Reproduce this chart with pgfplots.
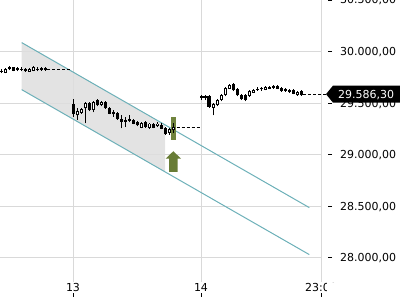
\documentclass[border=0pt]{standalone}
\usepackage{pgfplots}
\usepackage{pgfplotstable}
\pgfplotsset{compat=1.18}
\usepackage{fontspec}
\setmainfont{DejaVu Sans}
\definecolor{gridc}{RGB}{217,217,217}
\definecolor{chan}{RGB}{108,176,184}
\definecolor{chanfill}{RGB}{222,222,222}
\definecolor{hl}{RGB}{112,132,62}
\definecolor{arr}{RGB}{104,124,54}

% candles: x, low, high, body bottom, body top
\pgfplotstableread{
x lo hi bot top
1.7 29789 29827 29803 29813
9.3 29818 29857 29827 29847
13.3 29808 29852 29813 29847
17.3 29808 29847 29818 29837
21.3 29808 29847 29823 29832
25.3 29803 29837 29808 29827
37.3 29808 29847 29823 29832
41.3 29813 29847 29823 29837
45.3 29813 29847 29823 29837
73.3 29362 29536 29391 29488
89.3 29420 29512 29430 29502
97.3 29468 29536 29478 29527
105.7 29444 29517 29449 29510
109.7 29391 29464 29398 29454
113.3 29367 29430 29391 29410
117.3 29337 29410 29342 29403
121.3 29255 29381 29316 29349
125.7 29265 29362 29316 29333
129.7 29313 29381 29328 29342
133.3 29294 29342 29301 29333
137.3 29274 29328 29284 29316
145.3 29262 29323 29268 29316
153.3 29255 29306 29262 29301
161.3 29245 29310 29252 29284
165.7 29194 29265 29204 29258
201.7 29527 29582 29551 29565
205.0 29527 29575 29551 29565
209.0 29456 29582 29462 29568
233.3 29614 29696 29624 29689
237.7 29565 29648 29575 29640
241.3 29527 29590 29536 29582
245.7 29517 29585 29527 29575
257.3 29619 29653 29629 29640
261.3 29619 29658 29633 29646
269.3 29633 29663 29640 29656
273.3 29638 29672 29646 29663
277.3 29633 29672 29640 29663
281.3 29609 29658 29617 29650
285.3 29609 29643 29617 29633
289.3 29599 29633 29607 29624
293.3 29585 29633 29592 29624
301.3 29570 29629 29575 29617
}\filled
\pgfplotstableread{
x lo hi bot top
5.3 29789 29842 29794 29832
29.3 29803 29842 29806 29829
33.3 29808 29857 29813 29847
77.3 29333 29449 29381 29420
81.7 29396 29454 29407 29439
85.7 29303 29507 29449 29498
93.3 29410 29522 29430 29512
101.7 29468 29522 29478 29512
141.7 29255 29313 29262 29306
149.3 29252 29306 29258 29301
157.3 29265 29316 29274 29301
169.7 29194 29255 29213 29245
173.7 29206 29310 29236 29268
213.3 29381 29498 29456 29488
217.3 29468 29536 29478 29527
221.3 29517 29585 29527 29575
225.7 29565 29658 29575 29650
229.3 29633 29682 29640 29672
249.3 29561 29629 29568 29617
253.3 29595 29633 29600 29624
265.3 29624 29663 29630 29656
297.3 29570 29614 29575 29607
}\hollow

\begin{document}
\fontsize{11pt}{13pt}\selectfont
\begin{tikzpicture}
\path[use as bounding box] (0,0) rectangle (400pt,300pt);
\begin{axis}[
  at={(0pt,18pt)}, anchor=south west,
  scale only axis, width=322pt, height=282pt,
  xmin=0, xmax=322, ymin=27763, ymax=30500,
  clip=false,
  axis line style={draw=none},
  scaled ticks=false,
  xtick={73,201,321}, xticklabels={13,14,23:00},
  ytick={28000,28500,29000,29500,30000,30500},
  grid=major, major grid style={gridc, line width=1pt},
  tick align=outside, major tick length=4pt,
  xtick style={black, line width=0.8pt, yshift=-11pt},
  ytick style={black, line width=0.8pt, xshift=6pt},
  ytick pos=right, yticklabel pos=right, xtick pos=bottom,
  xticklabel style={anchor=north, inner sep=0pt, yshift=3pt},
  yticklabel style={anchor=base west, inner sep=0pt, yshift=-4pt, xshift=14pt},
  /pgf/number format/assume math mode=true,
  yticklabel={\pgfmathprintnumber[fixed, fixed zerofill, precision=2, use comma, 1000 sep={.}]{\tick}},
  every tick label/.append style={font=\fontsize{11pt}{13pt}\selectfont},
]
% channel fill
\addplot[draw=none, fill=chanfill, fill opacity=0.85] coordinates {(21.7,30086.5) (165,29288.5) (165,28832) (21.7,29630)} --cycle;
% channel lines
\addplot[chan, line width=1pt] coordinates {(21.7,30086.5) (309.3,28485)};
\addplot[chan, line width=1pt] coordinates {(21.7,29630) (309.3,28029)};
% highlight
\addplot[draw=none, fill=hl] coordinates {(171.3,29365) (175.7,29365) (175.7,29145) (171.3,29145)} --cycle;
% arrow
\addplot[draw=none, fill=arr] coordinates {(173.3,29032) (181,28961) (177.7,28961) (177.7,28831) (169,28831) (169,28961) (165.7,28961)} --cycle;
% dashed close lines
\addplot[black, dashed, dash pattern=on 3pt off 2pt, line width=0.8pt] coordinates {(47,29827) (70,29827)};
\addplot[black, dashed, dash pattern=on 3pt off 2pt, line width=0.8pt] coordinates {(176.7,29262) (200,29262)};
\addplot[black, dashed, dash pattern=on 3pt off 2pt, line width=0.8pt] coordinates {(303.3,29586.3) (328,29586.3)};
% wicks
\addplot[draw=none, mark=none, error bars/.cd, y dir=plus, y explicit, error mark=none, error bar style={draw=black, solid, line width=1pt}]
  table[x=x, y=lo, y error plus expr=\thisrow{hi}-\thisrow{lo}, y error minus expr=0] {\filled};
\addplot[draw=none, mark=none, error bars/.cd, y dir=plus, y explicit, error mark=none, error bar style={draw=black, solid, line width=1pt}]
  table[x=x, y=lo, y error plus expr=\thisrow{hi}-\thisrow{lo}, y error minus expr=0] {\hollow};
% bodies
\addplot[draw=none, mark=none, error bars/.cd, y dir=plus, y explicit, error mark=none, error bar style={draw=black, solid, line width=3.2pt}]
  table[x=x, y=bot, y error plus expr=\thisrow{top}-\thisrow{bot}, y error minus expr=0] {\filled};
\addplot[draw=none, mark=none, error bars/.cd, y dir=plus, y explicit, error mark=none, error bar style={draw=black, solid, line width=3.4pt}]
  table[x=x, y=bot, y error plus expr=\thisrow{top}-\thisrow{bot}, y error minus expr=0] {\hollow};
\addplot[draw=none, mark=none, error bars/.cd, y dir=plus, y explicit, error mark=none, error bar style={draw=white, solid, line width=1.4pt}]
  table[x=x, y expr=\thisrow{bot}+9, y error plus expr=\thisrow{top}-\thisrow{bot}-18, y error minus expr=0] {\hollow};
\coordinate (tag) at (axis cs:326,29586.3);
\end{axis}
\fill[black] (tag) -- ++(7pt,8.5pt) -- ++(70pt,0pt) -- ++(0pt,-17pt) -- ++(-70pt,0pt) -- cycle;
\node[anchor=base west, inner sep=0pt, text=white, font=\fontsize{11pt}{13pt}\selectfont] at ([xshift=12pt,yshift=-4pt]tag) {29.586,30};
\fill[white] (326.5pt,0) rectangle (400pt,17pt);
\end{tikzpicture}
\end{document}
